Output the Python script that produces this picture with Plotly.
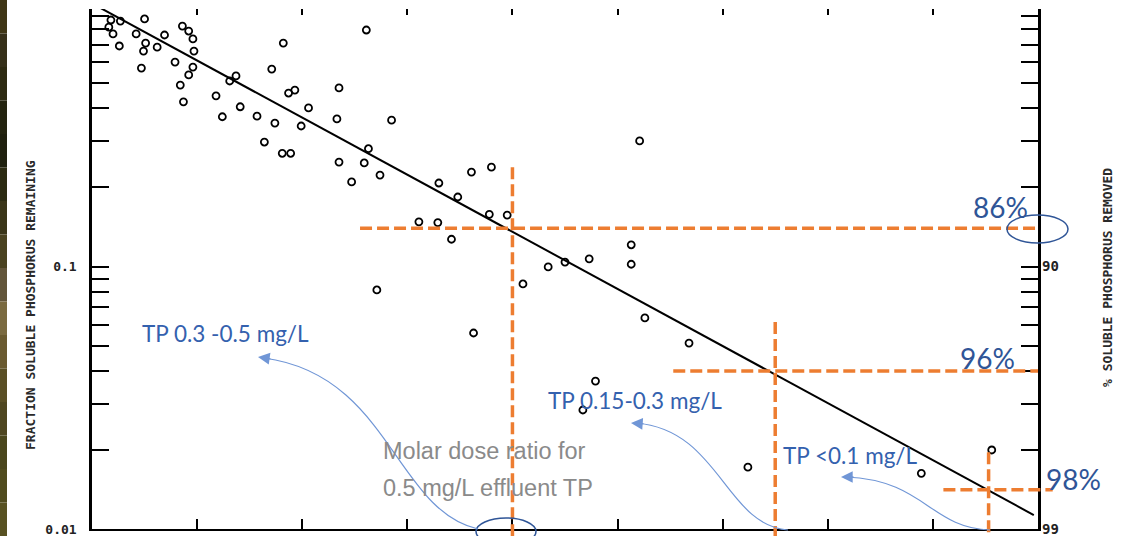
import math
import plotly.graph_objects as go

# ---------------- data ----------------
dose = [0.18, 0.27, 0.16, 0.20, 0.26, 0.50, 0.42, 0.51, 0.49, 0.62,
        0.69, 0.47, 0.86, 0.92, 0.96, 0.97, 0.79, 0.96, 0.92, 0.84,
        0.87, 1.18, 1.31, 1.37, 1.41, 1.24, 2.61, 1.82, 1.71, 1.87,
        1.93, 2.35, 1.57, 1.74, 2.06, 1.99, 2.33, 2.85, 1.64, 1.81,
        1.89, 2.35, 2.63, 2.59, 2.74, 2.47, 3.30, 3.48, 3.61, 3.80,
        3.78, 3.95, 3.11, 3.29, 3.42, 2.71, 4.10, 4.34, 4.50, 4.73,
        5.13, 5.13, 5.21, 5.26, 3.63, 5.68, 4.79, 4.67, 6.24, 7.89,
        8.56]
fraction = [0.869, 0.861, 0.816, 0.769, 0.692, 0.877, 0.769, 0.710, 0.662, 0.685,
            0.762, 0.570, 0.824, 0.789, 0.736, 0.662, 0.601, 0.575, 0.537, 0.491,
            0.424, 0.447, 0.509, 0.532, 0.406, 0.372, 0.796, 0.710, 0.565, 0.458,
            0.470, 0.479, 0.374, 0.352, 0.402, 0.343, 0.365, 0.361, 0.298, 0.270,
            0.270, 0.250, 0.281, 0.248, 0.223, 0.210, 0.208, 0.184, 0.229, 0.239,
            0.158, 0.157, 0.148, 0.147, 0.127, 0.0814, 0.0858, 0.0996, 0.104, 0.107,
            0.121, 0.102, 0.301, 0.0637, 0.0558, 0.0511, 0.0366, 0.0284, 0.0172, 0.0163,
            0.0200]

fit_x = [0.08, 8.96]
fit_y = [0.966, 0.0113]

x_ticks = [1, 2, 3, 4, 5, 6, 7, 8]
y_ticks = [0.01, 0.02, 0.03, 0.04, 0.05, 0.06, 0.07, 0.08, 0.09,
           0.1, 0.2, 0.3, 0.4, 0.5, 0.6, 0.7, 0.8, 0.9]
y_ticktext = ["0.01", "", "", "", "", "", "", "", "",
              "0.1", "", "", "", "", "", "", "", ""]
right_vals = [0.1, 0.01]
right_text = ["90", "99"]

# guide lines: (fraction, x start, x end) and (dose, fraction top)
h_guides = [(0.14, 2.55, 9.0), (0.04, 5.53, 9.0), (0.0141, 8.10, 9.14)]
v_guides = [(4.0, 0.239), (6.50, 0.0615), (8.53, 0.0196)]
pct_labels = ["86%", "96%", "98%"]
tp_labels = ["TP 0.3 -0.5 mg/L", "TP 0.15-0.3 mg/L", "TP <0.1 mg/L"]
note_lines = ["Molar dose ratio for", "0.5 mg/L effluent TP"]

X_RANGE = [0, 9]
Y_RANGE = [-2, -0.019]   # log10 units

# ---------------- layout geometry ----------------
W, H = 1129, 536
ML, MR, MT, MB = 92, 91, 9, 7
PW, PH = W - ML - MR, H - MT - MB


def PX(px):
    return (px - ML) / PW


def PY(py):
    return (H - MB - py) / PH


def xd(v):
    return (v - X_RANGE[0]) / (X_RANGE[1] - X_RANGE[0])


def yd(v):
    return (math.log10(v) - Y_RANGE[0]) / (Y_RANGE[1] - Y_RANGE[0])


ORANGE = "#ED7D31"
BLUE = "#2F5597"
ARROW = "#7096D6"
GREY = "#8a8a8a"

fig = go.Figure()
fig.add_trace(go.Scatter(x=fit_x, y=fit_y, mode="lines",
                         line=dict(color="black", width=2),
                         hoverinfo="skip", showlegend=False))
fig.add_trace(go.Scatter(x=dose, y=fraction, mode="markers",
                         marker=dict(symbol="circle-open", size=7, color="black",
                                     line=dict(width=1.8, color="black")),
                         showlegend=False))
fig.add_trace(go.Scatter(x=fit_x, y=fit_y, mode="lines", xaxis="x2", yaxis="y2",
                         line=dict(color="rgba(0,0,0,0)"), hoverinfo="skip",
                         showlegend=False))

shapes = []
# left decorative strip (background photo edge)
strip_cols = ["#3f3616", "#36301a", "#2e2a12", "#242410", "#1f200e", "#2c2b12",
              "#3a3518", "#4a4220", "#62553a", "#7a6a40", "#6a5a30", "#5a4f25",
              "#4e4620", "#4a461c", "#504b1e", "#585222"]
n = len(strip_cols)
for i, c in enumerate(strip_cols):
    shapes.append(dict(type="rect", xref="paper", yref="paper",
                       x0=PX(0), x1=PX(7), y0=PY(H * (i + 1) / n), y1=PY(H * i / n),
                       fillcolor=c, line=dict(width=0), layer="below"))

dash = dict(color=ORANGE, width=3.5, dash="12px,5px")
for (fy, xs, xe) in h_guides:
    shapes.append(dict(type="line", xref="paper", yref="paper",
                       x0=xd(xs), x1=xd(xe), y0=yd(fy), y1=yd(fy), line=dash))
for (vx, fy) in v_guides:
    shapes.append(dict(type="line", xref="paper", yref="paper",
                       x0=xd(vx), x1=xd(vx), y0=yd(fy), y1=PY(H + 5), line=dash))

# ellipses
shapes.append(dict(type="circle", xref="paper", yref="paper",
                   x0=PX(1007), x1=PX(1068), y0=PY(243), y1=PY(215),
                   line=dict(color=BLUE, width=1.5)))
shapes.append(dict(type="circle", xref="paper", yref="paper",
                   x0=PX(476), x1=PX(536), y0=PY(545), y1=PY(518),
                   line=dict(color=BLUE, width=1.5)))


def bez(p0, p1, p2, p3):
    pts = [p0, p1, p2, p3]
    s = "M {:.4f},{:.4f} C ".format(PX(pts[0][0]), PY(pts[0][1]))
    s += " ".join("{:.4f},{:.4f}".format(PX(a), PY(b)) for a, b in pts[1:])
    return s


curves = [((478, 529), (395, 510), (390, 375), (264, 358)),
          ((788, 530), (725, 525), (720, 430), (636, 423)),
          ((990, 530), (930, 528), (925, 480), (846, 477))]
for c in curves:
    shapes.append(dict(type="path", xref="paper", yref="paper", path=bez(*c),
                       line=dict(color=ARROW, width=1.2)))

annotations = []
tips = [((258, 357), 14, 2), ((631, 423), 14, 1), ((841, 477), 14, 0)]
for (tx, ty), ax, ay in tips:
    annotations.append(dict(x=PX(tx), y=PY(ty), xref="paper", yref="paper", text="",
                            showarrow=True, arrowhead=2, arrowsize=1.8, arrowwidth=1.3,
                            arrowcolor=ARROW, ax=ax, ay=ay, standoff=0))

pct_pos = [(1000, 207), (987, 358), (1073, 479)]
for t, (cx, cy) in zip(pct_labels, pct_pos):
    annotations.append(dict(x=PX(cx), y=PY(cy), xref="paper", yref="paper", text=t,
                            showarrow=False, xanchor="center", yanchor="middle",
                            font=dict(family="Lato", size=28, color=BLUE)))

tp_pos = [(225, 333), (635, 400), (850, 455)]
for t, (cx, cy) in zip(tp_labels, tp_pos):
    annotations.append(dict(x=PX(cx), y=PY(cy), xref="paper", yref="paper", text=t,
                            showarrow=False, xanchor="center", yanchor="middle",
                            font=dict(family="Lato", size=22.5, color="#3461AE")))

note_pos = [(484, 451), (488, 488)]
for t, (cx, cy) in zip(note_lines, note_pos):
    annotations.append(dict(x=PX(cx), y=PY(cy), xref="paper", yref="paper", text=t,
                            showarrow=False, xanchor="center", yanchor="middle",
                            font=dict(family="Liberation Sans", size=23.5, color=GREY)))

title_font = dict(family="DejaVu Sans Mono", size=13, color="#2a2a2a", weight="bold")
annotations.append(dict(x=PX(30), y=PY(305), xref="paper", yref="paper",
                        text="FRACTION SOLUBLE PHOSPHORUS REMAINING", textangle=-90,
                        showarrow=False, xanchor="center", yanchor="middle", font=title_font))
annotations.append(dict(x=PX(1108), y=PY(278), xref="paper", yref="paper",
                        text="% SOLUBLE PHOSPHORUS REMOVED", textangle=-90,
                        showarrow=False, xanchor="center", yanchor="middle", font=title_font))

tick_font = dict(family="DejaVu Sans Mono", size=13, color="#222222", weight="bold")
right_font = dict(family="DejaVu Sans Mono", size=14, color="#222222", weight="bold")

fig.update_layout(
    width=W, height=H,
    margin=dict(l=ML, r=MR, t=MT, b=MB, pad=0, autoexpand=False),
    paper_bgcolor="white", plot_bgcolor="white",
    showlegend=False, hovermode=False,
    shapes=shapes, annotations=annotations,
    xaxis=dict(range=X_RANGE, showgrid=False, zeroline=False, showline=True,
               linecolor="black", linewidth=2, mirror=False, ticks="inside",
               ticklen=10, tickwidth=2, tickcolor="black", tickvals=x_ticks,
               showticklabels=False, automargin=False),
    xaxis2=dict(range=X_RANGE, overlaying="x", side="top", showgrid=False,
                zeroline=False, showline=False, ticks="inside", ticklen=6,
                tickwidth=2, tickcolor="black", tickvals=x_ticks,
                showticklabels=False, automargin=False),
    yaxis=dict(type="log", range=Y_RANGE, showgrid=False, zeroline=False,
               showline=True, linecolor="black", linewidth=2.5, mirror="ticks",
               ticks="inside", ticklen=17, tickwidth=2, tickcolor="black",
               tickvals=y_ticks, ticktext=y_ticktext, tickfont=tick_font,
               ticklabelstandoff=10, ticklabeloverflow="allow", automargin=False),
    yaxis2=dict(type="log", range=Y_RANGE, overlaying="y", side="right",
                showgrid=False, zeroline=False, showline=False, ticks="",
                tickvals=right_vals, ticktext=right_text, tickfont=right_font,
                ticklabelstandoff=3, ticklabeloverflow="allow", automargin=False),
)

fig.write_html("out.html", config={"displayModeBar": False},
               post_script="document.body.style.margin='0';"
                           "document.body.style.overflow='hidden';")
